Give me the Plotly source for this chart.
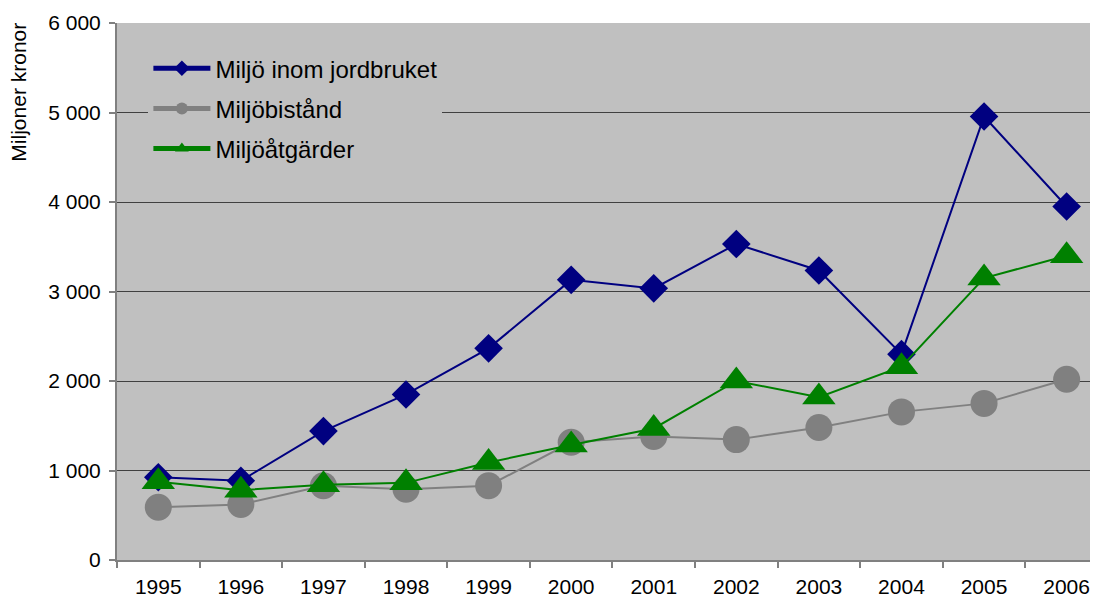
import plotly.graph_objects as go

# Data (miljoner kronor)
years = ['1995', '1996', '1997', '1998', '1999', '2000',
         '2001', '2002', '2003', '2004', '2005', '2006']
jordbruket = [925, 885, 1440, 1850, 2365, 3130, 3035, 3530, 3235, 2300, 4955, 3950]
bistand = [590, 620, 830, 790, 830, 1315, 1380, 1345, 1480, 1655, 1750, 2020]
atgarder = [875, 780, 840, 862, 1090, 1285, 1470, 2000, 1820, 2160, 3150, 3400]

ytick_vals = [0, 1000, 2000, 3000, 4000, 5000, 6000]
ytick_text = ['0', '1 000', '2 000', '3 000', '4 000', '5 000', '6 000']

FONT = 'Arial, Liberation Sans, sans-serif'

fig = go.Figure()

fig.add_trace(go.Scatter(
    x=years, y=jordbruket, name='Miljö inom jordbruket',
    mode='lines+markers', legendgroup='a',
    line=dict(color='#000080', width=2),
    marker=dict(symbol='diamond', size=22, color='#000080'),
))
fig.add_trace(go.Scatter(
    x=years, y=bistand, name='Miljöbistånd',
    mode='lines+markers', legendgroup='b',
    line=dict(color='#808080', width=2),
    marker=dict(symbol='circle', size=27, color='#808080'),
))
fig.add_trace(go.Scatter(
    x=years, y=atgarder, name='Miljöåtgärder',
    mode='lines+markers', legendgroup='c',
    line=dict(color='#008000', width=2),
    marker=dict(symbol='triangle-up', size=29, color='#008000'),
))

# page body has an 8px margin, so the figure is 8px smaller than the window
fig.update_layout(
    width=1090, height=593,
    margin=dict(l=109, r=0, t=15, b=41),
    paper_bgcolor='white',
    plot_bgcolor='#C0C0C0',
    font=dict(family=FONT, size=21, color='black'),
    showlegend=True,
    legend=dict(
        x=0.032, y=0.957, xanchor='left', yanchor='top',
        bgcolor='#C0C0C0',
        font=dict(family=FONT, size=24, color='black'),
        traceorder='grouped', tracegroupgap=6,
        itemsizing='constant', itemwidth=57,
    ),
    xaxis=dict(
        type='category',
        range=[-0.5, 11.38],
        tickson='boundaries',
        ticks='outside', ticklen=6, tickcolor='#808080', tickwidth=2,
        showline=True, linecolor='#808080', linewidth=2,
        showgrid=False,
        tickfont=dict(size=21),
        ticklabelstandoff=7,
        automargin=False,
    ),
    yaxis=dict(
        range=[0, 6000],
        tickvals=ytick_vals, ticktext=ytick_text,
        ticks='outside', ticklen=6, tickcolor='#808080', tickwidth=2,
        showline=True, linecolor='#808080', linewidth=2,
        showgrid=True, gridcolor='#404040', gridwidth=1,
        zeroline=False,
        tickfont=dict(size=21),
        ticklabelstandoff=4,
        automargin=False,
    ),
)

fig.add_annotation(
    text='Miljoner kronor',
    xref='paper', yref='paper',
    x=-0.1, y=0.872, xanchor='center', yanchor='middle',
    textangle=-90, showarrow=False,
    font=dict(family=FONT, size=21, color='black'),
)

fig.write_html('out.html')
